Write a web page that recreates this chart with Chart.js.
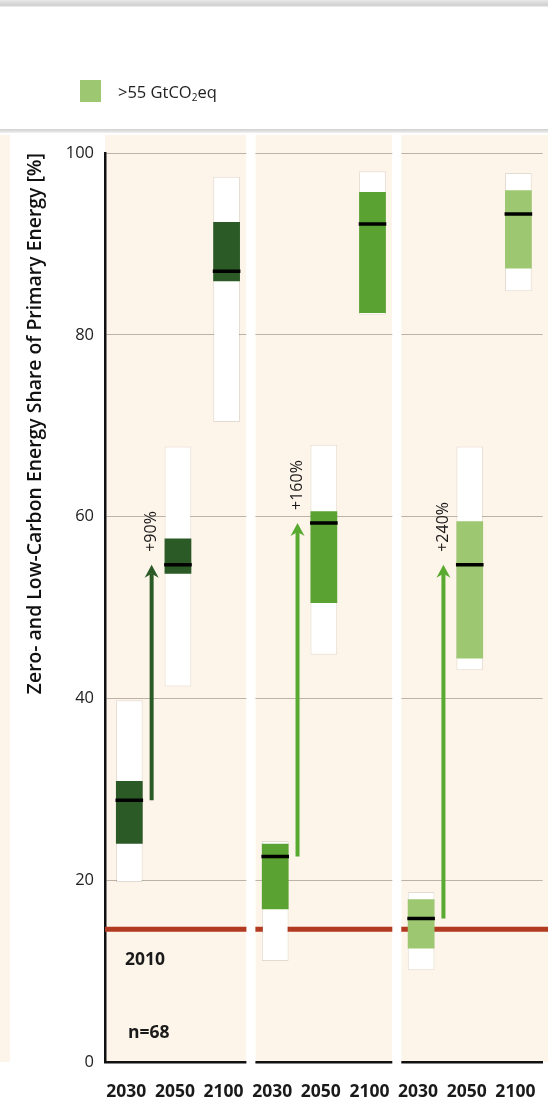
<!DOCTYPE html>
<html>
<head>
<meta charset="utf-8">
<script src="https://cdn.jsdelivr.net/npm/chart.js@4.4.1/dist/chart.umd.min.js"></script>
<style>
  html, body { margin: 0; padding: 0; background: #fff; width: 548px; height: 1100px; overflow: hidden; }
  #wrap { position: relative; width: 548px; height: 1100px; overflow: hidden; }
  #chart { position: absolute; left: 0; top: 0; }
  .topline { position: absolute; left: 0; top: 0; width: 548px; height: 7px;
             background: linear-gradient(#e8e8e8, #d0d0d0 75%, #f2f2f2); }
  .keyline { position: absolute; left: 0; top: 129px; width: 548px; height: 4px;
             background: linear-gradient(#d2d2d2, #dedede 50%, #f4f4f4); }
  .key { position: absolute; left: 80px; top: 80px; height: 22px; display: flex; align-items: center;
         font: 16.5px 'Open Sans', sans-serif; color: #222; white-space: nowrap; }
  .key .swatch { width: 21px; height: 22px; margin-right: 17px; }
  .key sub { font-size: 10px; vertical-align: -3px; line-height: 0; }
</style>
</head>
<body>
<div id="wrap">
  <canvas id="chart" width="560" height="1100" style="width:560px;height:1100px"></canvas>
  <div class="topline"></div>
  <div class="keyline"></div>
  <div class="key"><span class="swatch" id="swatch"></span><span>&gt;55 GtCO<sub>2</sub>eq</span></div>
</div>
<script>
// Time slices for the three emission groups (three panels of three periods)
const categories = ['2030', '2050', '2100', '2030', '2050', '2100', '2030', '2050', '2100'];

// Full scenario range (min / max), white bars
const rangeLow  = [19.8, 41.3, 70.4, 11.1, 44.8, 82.2, 10.1, 43.1, 84.8];
const rangeHigh = [39.8, 67.7, 97.4, 24.3, 67.9, 98.0, 18.7, 67.7, 97.8];

// Interquartile range, coloured bars
const boxLow  = [24.0, 53.7, 85.9, 16.8, 50.5, 82.4, 12.5, 44.4, 87.3];
const boxHigh = [30.9, 57.6, 92.4, 24.0, 60.6, 95.7, 17.9, 59.5, 95.9];

// Medians
const medians = [28.8, 54.7, 87.0, 22.6, 59.3, 92.2, 15.8, 54.7, 93.3];

// Increase from 2030 to 2050 median, one per panel
const changeLabels = ['+90%', '+160%', '+240%'];

// 2010 reference share and sample size
const level2010 = 14.6;
const label2010 = '2010';
const sampleLabel = 'n=68';

// Y axis ticks
const yTicks = [0, 20, 40, 60, 80, 100];

const panelColors = ['#2b5a27', '#5aa232', '#9dc770'];
const arrowColors = ['#2b5a27', '#58aa30', '#58aa30'];
const cream = '#fdf4ea';
const FONT = "'Open Sans', sans-serif";

document.getElementById('swatch').style.background = panelColors[2];

const rangeData = categories.map((_, i) => [rangeLow[i], rangeHigh[i]]);
const boxData = categories.map((_, i) => [boxLow[i], boxHigh[i]]);
const boxColors = categories.map((_, i) => panelColors[Math.floor(i / 3)]);

const GAP = 9;

function panelBounds(chart) {
  const xs = chart.scales.x;
  const area = chart.chartArea;
  const edge = (i) => (xs.getPixelForValue(i - 1) + xs.getPixelForValue(i)) / 2;
  const out = [];
  for (let p = 0; p < 3; p++) {
    const x0 = p === 0 ? area.left : edge(p * 3) + GAP / 2;
    const x1 = p === 2 ? chart.width : edge((p + 1) * 3) - GAP / 2;
    out.push([x0, x1]);
  }
  return out;
}

const panelPlugin = {
  id: 'panels',
  beforeDraw(chart) {
    const ctx = chart.ctx;
    const area = chart.chartArea;
    const top = area.top - 18;
    ctx.save();
    ctx.fillStyle = cream;
    panelBounds(chart).forEach(([x0, x1]) => ctx.fillRect(x0, top, x1 - x0, area.bottom - top));
    // edge of the neighbouring panel on the far left
    ctx.fillRect(0, top, 10, area.bottom - top);
    ctx.restore();
  },
  beforeDatasetsDraw(chart) {
    const ctx = chart.ctx;
    const area = chart.chartArea;
    const top = area.top - 18;
    const bounds = panelBounds(chart);
    ctx.save();
    // white separators between panels
    ctx.fillStyle = '#ffffff';
    for (let p = 0; p < 2; p++) {
      ctx.fillRect(bounds[p][1], top, bounds[p + 1][0] - bounds[p][1], area.bottom - top + 3);
    }
    // 2010 level
    const y = chart.scales.y.getPixelForValue(level2010);
    ctx.strokeStyle = '#b23a20';
    ctx.lineWidth = 5;
    bounds.forEach(([x0, x1]) => {
      ctx.beginPath();
      ctx.moveTo(x0, y);
      ctx.lineTo(x1, y);
      ctx.stroke();
    });
    ctx.restore();
  },
  afterDatasetsDraw(chart) {
    const ctx = chart.ctx;
    const xs = chart.scales.x;
    const ys = chart.scales.y;
    const area = chart.chartArea;
    ctx.save();
    for (let p = 0; p < 3; p++) {
      const i0 = p * 3, i1 = p * 3 + 1;
      const x = (xs.getPixelForValue(i0) + xs.getPixelForValue(i1)) / 2 - 2;
      const yStart = ys.getPixelForValue(medians[i0]);
      const yTip = ys.getPixelForValue(medians[i1]);
      const col = arrowColors[p];
      ctx.strokeStyle = col;
      ctx.fillStyle = col;
      ctx.lineWidth = 4;
      ctx.beginPath();
      ctx.moveTo(x, yStart);
      ctx.lineTo(x, yTip + 9);
      ctx.stroke();
      ctx.beginPath();
      ctx.moveTo(x, yTip);
      ctx.lineTo(x + 7, yTip + 13);
      ctx.lineTo(x, yTip + 9);
      ctx.lineTo(x - 7, yTip + 13);
      ctx.closePath();
      ctx.fill();
      // change label, reading upwards
      ctx.save();
      ctx.translate(x, yTip - 13);
      ctx.rotate(-Math.PI / 2);
      ctx.fillStyle = '#1a1a1a';
      ctx.font = '16px ' + FONT;
      ctx.textAlign = 'left';
      ctx.textBaseline = 'middle';
      ctx.fillText(changeLabels[p], 0, 0);
      ctx.restore();
    }
    ctx.fillStyle = '#1a1a1a';
    ctx.font = 'bold 17.5px ' + FONT;
    ctx.textAlign = 'left';
    ctx.textBaseline = 'middle';
    ctx.fillText(label2010, area.left + 20, ys.getPixelForValue(level2010) + 31);
    ctx.fillText(sampleLabel, area.left + 23, area.bottom - 29);
    ctx.restore();
  }
};

new Chart(document.getElementById('chart'), {
  data: {
    labels: categories,
    datasets: [
      {
        type: 'line',
        data: medians,
        showLine: false,
        pointStyle: 'line',
        pointRadius: 13.8,
        pointHoverRadius: 13.8,
        pointBorderWidth: 3.5,
        pointHoverBorderWidth: 3.5,
        borderColor: '#000000',
        backgroundColor: '#000000',
        order: 1
      },
      {
        type: 'bar',
        data: boxData,
        backgroundColor: boxColors,
        borderWidth: 0,
        grouped: false,
        categoryPercentage: 1,
        barPercentage: 0.55,
        order: 2
      },
      {
        type: 'bar',
        data: rangeData,
        backgroundColor: '#ffffff',
        borderColor: 'rgba(0,0,0,0.10)',
        borderWidth: 1,
        borderSkipped: false,
        grouped: false,
        categoryPercentage: 1,
        barPercentage: 0.55,
        order: 3
      }
    ]
  },
  options: {
    responsive: false,
    animation: false,
    events: [],
    layout: { padding: { top: 153, right: 1.4, bottom: 0, left: 0 } },
    plugins: { legend: { display: false }, tooltip: { enabled: false } },
    scales: {
      x: {
        type: 'category',
        offset: true,
        grid: { display: false, drawTicks: false },
        border: { display: true, color: '#111111', width: 2.5 },
        ticks: { font: { family: FONT, size: 17.5, weight: 'bold' }, color: '#1a1a1a', padding: 20, labelOffset: -3, maxRotation: 0, autoSkip: false },
        afterFit(scale) { scale.height = 38; }
      },
      y: {
        type: 'linear',
        min: 0,
        max: 100,
        afterBuildTicks(scale) { scale.ticks = yTicks.map(v => ({ value: v })); },
        grid: { color: '#bdb2a5', lineWidth: 1, drawTicks: false },
        border: { display: true, color: '#111111', width: 2.5 },
        ticks: { font: { family: FONT, size: 16.5 }, color: '#222222', padding: 11 },
        title: {
          display: true,
          text: 'Zero- and Low-Carbon Energy Share of Primary Energy [%]',
          align: 'end',
          color: '#111111',
          font: { family: FONT, size: 19.4, weight: 600 },
          padding: { top: 24, bottom: 0 }
        },
        afterFit(scale) { scale.width = 105; }
      }
    }
  },
  plugins: [panelPlugin]
});
</script>
</body>
</html>
